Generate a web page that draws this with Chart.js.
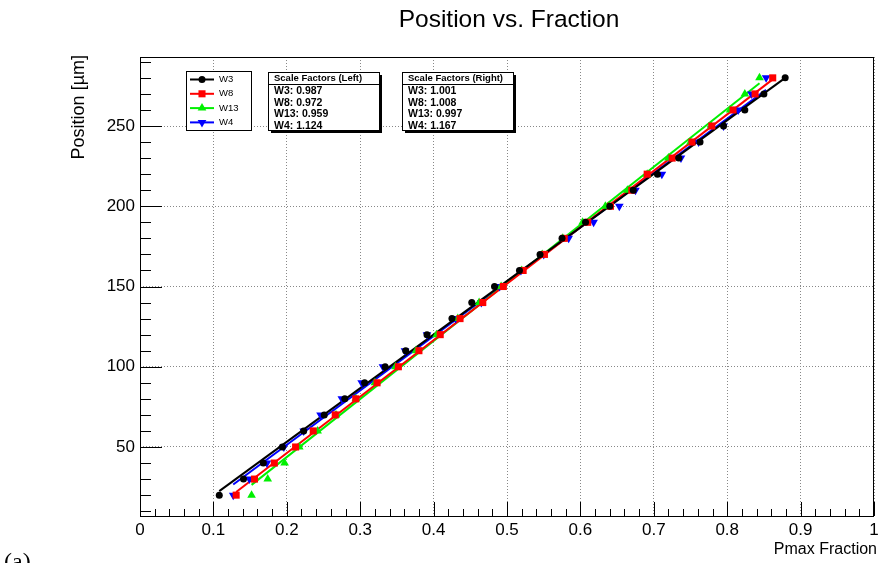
<!DOCTYPE html>
<html>
<head>
<meta charset="utf-8">
<script src="https://cdn.jsdelivr.net/npm/chart.js@4.4.1/dist/chart.umd.min.js"></script>
<style>
  html, body { margin: 0; padding: 0; background: #fff; }
  canvas { display: block; }
</style>
</head>
<body>
<canvas id="posChart" width="879" height="563"></canvas>
<script>
const positions = [20, 30, 40, 50, 60, 70, 80, 90, 100, 110, 120, 130, 140, 150, 160, 170, 180, 190, 200, 210, 220, 230, 240, 250, 260, 270, 280];
const w3Frac = [0.108, 0.141, 0.168, 0.194, 0.223, 0.251, 0.279, 0.306, 0.334, 0.362, 0.391, 0.425, 0.452, 0.483, 0.517, 0.545, 0.575, 0.607, 0.640, 0.672, 0.705, 0.734, 0.763, 0.795, 0.824, 0.850, 0.879];
const w8Frac = [0.131, 0.156, 0.183, 0.212, 0.236, 0.266, 0.294, 0.323, 0.352, 0.380, 0.409, 0.436, 0.467, 0.495, 0.522, 0.551, 0.578, 0.610, 0.641, 0.670, 0.691, 0.725, 0.752, 0.779, 0.808, 0.838, 0.862];
const w13Frac = [0.152, 0.174, 0.197, 0.217, 0.242, 0.267, 0.294, 0.320, 0.348, 0.376, 0.404, 0.433, 0.462, 0.492, 0.520, 0.548, 0.576, 0.603, 0.634, 0.664, 0.691, 0.720, 0.750, 0.778, 0.804, 0.824, 0.844];
const w4Frac = [0.127, 0.149, 0.173, 0.196, 0.223, 0.246, 0.275, 0.302, 0.331, 0.361, 0.391, 0.430, 0.465, 0.490, 0.519, 0.550, 0.584, 0.618, 0.653, 0.675, 0.711, 0.737, 0.761, 0.795, 0.815, 0.833, 0.853];

const seriesNames = ["W3", "W8", "W13", "W4"];
const leftFactors = ["0.987", "0.972", "0.959", "1.124"];
const rightFactors = ["1.001", "1.008", "0.997", "1.167"];

const xTicks = [0, 0.1, 0.2, 0.3, 0.4, 0.5, 0.6, 0.7, 0.8, 0.9, 1];
const yTicks = [50, 100, 150, 200, 250];

const FONT = "'Liberation Sans', Arial, Helvetica, sans-serif";

const series = [
    { name: seriesNames[0], fracs: w3Frac, color: "#000000", style: "circle", radius: 3.5, rotation: 0 },
    { name: seriesNames[1], fracs: w8Frac, color: "#ff0000", style: "rect", radius: 5, rotation: 0 },
    { name: seriesNames[2], fracs: w13Frac, color: "#00f000", style: "triangle", radius: 5, rotation: 0 },
    { name: seriesNames[3], fracs: w4Frac, color: "#0000ff", style: "triangle", radius: 5, rotation: 180 }
];

function fitLine(xs, ys) {
    const n = xs.length;
    const mx = xs.reduce((s, v) => s + v, 0) / n;
    const my = ys.reduce((s, v) => s + v, 0) / n;
    let sxy = 0, sxx = 0;
    for (let i = 0; i < n; i++) {
        sxy += (xs[i] - mx) * (ys[i] - my);
        sxx += (xs[i] - mx) * (xs[i] - mx);
    }
    const b = sxy / sxx;
    const a = my - b * mx;
    const lo = Math.min(...xs);
    const hi = Math.max(...xs);
    return [{ x: lo, y: a + b * lo }, { x: hi, y: a + b * hi }];
}

const datasets = [];
series.forEach((s) => {
    datasets.push({
        type: "line",
        label: s.name + " fit",
        data: fitLine(s.fracs, positions),
        borderColor: s.color,
        borderWidth: 2,
        pointRadius: 0,
        fill: false,
        order: 2
    });
});
series.forEach((s) => {
    datasets.push({
        type: "scatter",
        label: s.name,
        data: s.fracs.map((f, i) => ({ x: f, y: positions[i] })),
        backgroundColor: s.color,
        borderColor: s.color,
        borderWidth: 0,
        pointStyle: s.style,
        pointRadius: s.radius,
        pointRotation: s.rotation,
        order: 1
    });
});

function drawMarker(ctx, s, x, y) {
    ctx.save();
    ctx.fillStyle = s.color;
    ctx.beginPath();
    if (s.style === "circle") {
        ctx.arc(x, y, s.radius, 0, Math.PI * 2);
    } else if (s.style === "rect") {
        const h = s.radius * Math.SQRT1_2;
        ctx.rect(x - h, y - h, 2 * h, 2 * h);
    } else {
        const r = s.radius;
        const dir = s.rotation === 180 ? -1 : 1;
        ctx.moveTo(x, y - dir * r);
        ctx.lineTo(x + r * 0.87, y + dir * r * 0.5);
        ctx.lineTo(x - r * 0.87, y + dir * r * 0.5);
        ctx.closePath();
    }
    ctx.fill();
    ctx.restore();
}

function drawFactorBox(ctx, left, title, values) {
    const top = 72, width = 111, height = 58;
    ctx.fillStyle = "#000";
    ctx.fillRect(left + 3, top + 3, width, height);
    ctx.fillStyle = "#fff";
    ctx.fillRect(left, top, width, height);
    ctx.strokeStyle = "#000";
    ctx.lineWidth = 1;
    ctx.strokeRect(left + 0.5, top + 0.5, width, height);
    ctx.beginPath();
    ctx.moveTo(left, top + 12.5);
    ctx.lineTo(left + width, top + 12.5);
    ctx.stroke();
    ctx.fillStyle = "#000";
    ctx.textAlign = "left";
    ctx.textBaseline = "middle";
    ctx.font = "bold 9.5px " + FONT;
    ctx.fillText(title, left + 6, top + 6.5);
    ctx.font = "bold 10.5px " + FONT;
    values.forEach((v, i) => {
        ctx.fillText(seriesNames[i] + ": " + v, left + 6, top + 19 + i * 11.7);
    });
}

const decorations = {
    id: "decorations",
    afterDraw(chart) {
        const { ctx, chartArea, scales } = chart;
        const xs = scales.x, ys = scales.y;
        ctx.save();

        // frame
        ctx.strokeStyle = "#000";
        ctx.lineWidth = 1;
        ctx.strokeRect(chartArea.left + 0.5, chartArea.top + 0.5,
            chartArea.right - chartArea.left - 1, chartArea.bottom - chartArea.top);

        // inward ticks, x axis
        ctx.beginPath();
        for (let k = 0; k <= 50; k++) {
            const v = k * 0.02;
            const px = Math.round(xs.getPixelForValue(v)) + 0.5;
            const len = k % 5 === 0 ? 14 : 7;
            ctx.moveTo(px, chartArea.bottom);
            ctx.lineTo(px, chartArea.bottom - len);
        }
        // inward ticks, y axis
        for (let v = 10; v <= 290; v += 10) {
            const py = Math.round(ys.getPixelForValue(v)) + 0.5;
            const len = v % 50 === 0 ? 22 : 11;
            ctx.moveTo(chartArea.left, py);
            ctx.lineTo(chartArea.left + len, py);
        }
        ctx.stroke();

        // legend
        ctx.fillStyle = "#fff";
        ctx.fillRect(186, 71, 65, 59);
        ctx.strokeRect(186.5, 71.5, 65, 59);
        series.forEach((s, i) => {
            const y = 79.5 + i * 14.3;
            ctx.strokeStyle = s.color;
            ctx.lineWidth = 2;
            ctx.beginPath();
            ctx.moveTo(190, y);
            ctx.lineTo(214, y);
            ctx.stroke();
            drawMarker(ctx, s, 202, y);
            ctx.fillStyle = "#000";
            ctx.font = "9.5px " + FONT;
            ctx.textAlign = "left";
            ctx.textBaseline = "middle";
            ctx.fillText(s.name, 219, y);
        });
        ctx.strokeStyle = "#000";
        ctx.lineWidth = 1;

        drawFactorBox(ctx, 268, "Scale Factors (Left)", leftFactors);
        drawFactorBox(ctx, 402, "Scale Factors (Right)", rightFactors);

        // titles
        ctx.fillStyle = "#000";
        ctx.font = "24.5px " + FONT;
        ctx.textAlign = "center";
        ctx.textBaseline = "alphabetic";
        ctx.fillText("Position vs. Fraction", 509, 27);

        ctx.font = "16px " + FONT;
        ctx.textAlign = "right";
        ctx.fillText("Pmax Fraction", 877, 554);

        ctx.save();
        ctx.translate(79, 55);
        ctx.rotate(-Math.PI / 2);
        ctx.font = "18px " + FONT;
        ctx.textAlign = "right";
        ctx.textBaseline = "middle";
        ctx.fillText("Position [\u00b5m]", 0, 0);
        ctx.restore();

        ctx.font = "24px 'Liberation Serif', 'Times New Roman', serif";
        ctx.textAlign = "left";
        ctx.fillText("(a)", 4, 569);

        ctx.restore();
    }
};

new Chart(document.getElementById("posChart"), {
    data: { datasets },
    options: {
        responsive: false,
        animation: false,
        layout: { padding: { top: 57, right: 1, left: 0, bottom: 0 } },
        plugins: {
            legend: { display: false },
            title: { display: false },
            tooltip: { enabled: false }
        },
        scales: {
            x: {
                type: "linear",
                min: 0,
                max: 1,
                afterBuildTicks(scale) {
                    scale.ticks = xTicks.map((v) => ({ value: v }));
                },
                afterFit(scale) {
                    scale.height = 47;
                    scale.paddingLeft = 0;
                    scale.paddingRight = 0;
                },
                grid: { color: "#888", lineWidth: 1, drawTicks: false },
                border: { display: false, dash: [1, 2] },
                ticks: {
                    color: "#000",
                    font: { family: FONT, size: 17 },
                    padding: 4,
                    maxRotation: 0,
                    autoSkip: false,
                    callback: (v) => String(+v.toFixed(1))
                }
            },
            y: {
                type: "linear",
                min: 7,
                max: 293,
                afterBuildTicks(scale) {
                    scale.ticks = yTicks.map((v) => ({ value: v }));
                },
                afterFit(scale) {
                    scale.width = 140;
                    scale.paddingTop = 0;
                    scale.paddingBottom = 0;
                },
                grid: { color: "#888", lineWidth: 1, drawTicks: false },
                border: { display: false, dash: [1, 2] },
                ticks: {
                    color: "#000",
                    font: { family: FONT, size: 17 },
                    padding: 5,
                    autoSkip: false,
                    callback: (v) => String(v)
                }
            }
        }
    },
    plugins: [decorations]
});
</script>
</body>
</html>
